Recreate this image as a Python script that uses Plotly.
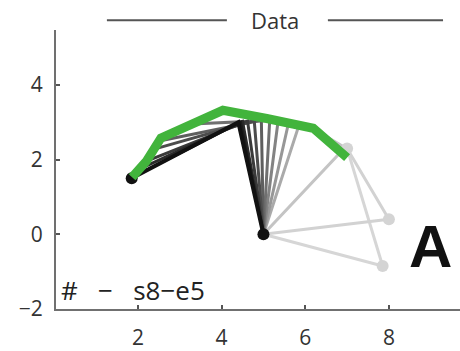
import plotly.graph_objects as go

# Chain poses: each pose is start point -> joint -> anchor, ordered first to last
pose_x = [
    [1.85, 4.40, 5.0],
    [1.95, 4.45, 5.0],
    [2.10, 4.50, 5.0],
    [2.25, 4.62, 5.0],
    [2.45, 4.78, 5.0],
    [2.60, 4.95, 5.0],
    [3.30, 5.15, 5.0],
    [4.05, 5.35, 5.0],
    [4.90, 5.60, 5.0],
    [5.60, 5.85, 5.0],
    [6.20, 6.95, 5.0],
    [7.00, 8.00, 5.0],
    [7.00, 7.85, 5.0],
]
pose_y = [
    [1.50, 3.00, 0.0],
    [1.58, 3.00, 0.0],
    [1.78, 3.02, 0.0],
    [1.98, 3.03, 0.0],
    [2.30, 3.04, 0.0],
    [2.52, 3.05, 0.0],
    [2.95, 3.05, 0.0],
    [3.28, 3.03, 0.0],
    [3.12, 2.98, 0.0],
    [2.98, 2.92, 0.0],
    [2.82, 2.32, 0.0],
    [2.30, 0.40, 0.0],
    [2.30, -0.85, 0.0],
]

# Trajectory of the start point
path_x = [1.86, 2.21, 2.55, 4.03, 5.08, 6.19, 7.00]
path_y = [1.53, 1.97, 2.58, 3.32, 3.10, 2.84, 2.05]

# Highlighted joints
first_x = [1.85, 5.0]
first_y = [1.50, 0.0]
last_x = [7.00, 8.00, 7.85]
last_y = [2.30, 0.40, -0.85]

x_ticks = [2, 4, 6, 8]
y_ticks = [-2, 0, 2, 4]
title_text = "Data"
note_text = "#\u00a0\u00a0\u00a0\u2212\u00a0\u00a0\u00a0s8\u2212e5"
panel_label = "A"

grays = ["#111111", "#1c1c1c", "#2a2a2a", "#3a3a3a", "#4c4c4c", "#5e5e5e",
         "#707070", "#838383", "#979797", "#aaaaaa", "#c4c4c4", "#d2d2d2", "#d6d6d6"]
widths = [4, 3, 3, 3, 3, 3, 3, 3, 3, 3, 3, 3, 3]

fig = go.Figure()

# lighter poses underneath, darkest on top
for i in reversed(range(len(pose_x))):
    fig.add_trace(go.Scatter(
        x=pose_x[i], y=pose_y[i], mode="lines",
        line=dict(color=grays[i], width=widths[i]),
        hoverinfo="skip", showlegend=False))

fig.add_trace(go.Scatter(
    x=last_x, y=last_y, mode="markers",
    marker=dict(color="#d4d4d4", size=12), showlegend=False))
fig.add_trace(go.Scatter(
    x=first_x, y=first_y, mode="markers",
    marker=dict(color="#111111", size=12), showlegend=False))

fig.add_trace(go.Scatter(
    x=path_x, y=path_y, mode="lines",
    line=dict(color="#42b43c", width=9), showlegend=False))

axis_font = dict(family="Open Sans", size=21, color="#333333")

fig.update_xaxes(
    range=[0.04, 9.7], tickvals=x_ticks, ticktext=[str(v) for v in x_ticks],
    showgrid=False, zeroline=False, showline=True, linecolor="#707070", linewidth=2,
    ticks="inside", ticklen=4, tickwidth=1.5, tickcolor="#555555",
    tickfont=axis_font, ticklabelstandoff=9)
fig.update_yaxes(
    range=[-2.0, 5.47], tickvals=y_ticks,
    ticktext=["\u22122" if v < 0 else str(v) for v in y_ticks],
    showgrid=False, zeroline=False, showline=True, linecolor="#707070", linewidth=2,
    ticks="inside", ticklen=4, tickwidth=1.5, tickcolor="#555555",
    tickfont=axis_font, ticklabelstandoff=7)

# title flanked by rules
fig.add_shape(type="line", xref="paper", yref="paper",
              x0=0.126, x1=0.423, y0=1.035, y1=1.035,
              line=dict(color="#555555", width=2))
fig.add_shape(type="line", xref="paper", yref="paper",
              x0=0.673, x1=0.958, y0=1.035, y1=1.035,
              line=dict(color="#555555", width=2))
fig.add_annotation(text=title_text, xref="paper", yref="paper",
                   x=0.542, y=1.035, showarrow=False, xanchor="center", yanchor="middle",
                   font=dict(family="Open Sans", size=22, color="#333333"))

fig.add_annotation(text=note_text, x=0.12, y=-1.50, showarrow=False,
                   xanchor="left", yanchor="middle",
                   font=dict(family="Open Sans", size=26, color="#222222"))
fig.add_annotation(text="<b>" + panel_label + "</b>", x=9.0, y=-0.32, showarrow=False,
                   xanchor="center", yanchor="middle",
                   font=dict(family="Liberation Sans", size=60, color="#111111"))

fig.update_layout(
    width=460, height=351,
    margin=dict(l=56, r=0, t=30, b=36),
    plot_bgcolor="white", paper_bgcolor="white",
)

fig.write_html("out.html")
